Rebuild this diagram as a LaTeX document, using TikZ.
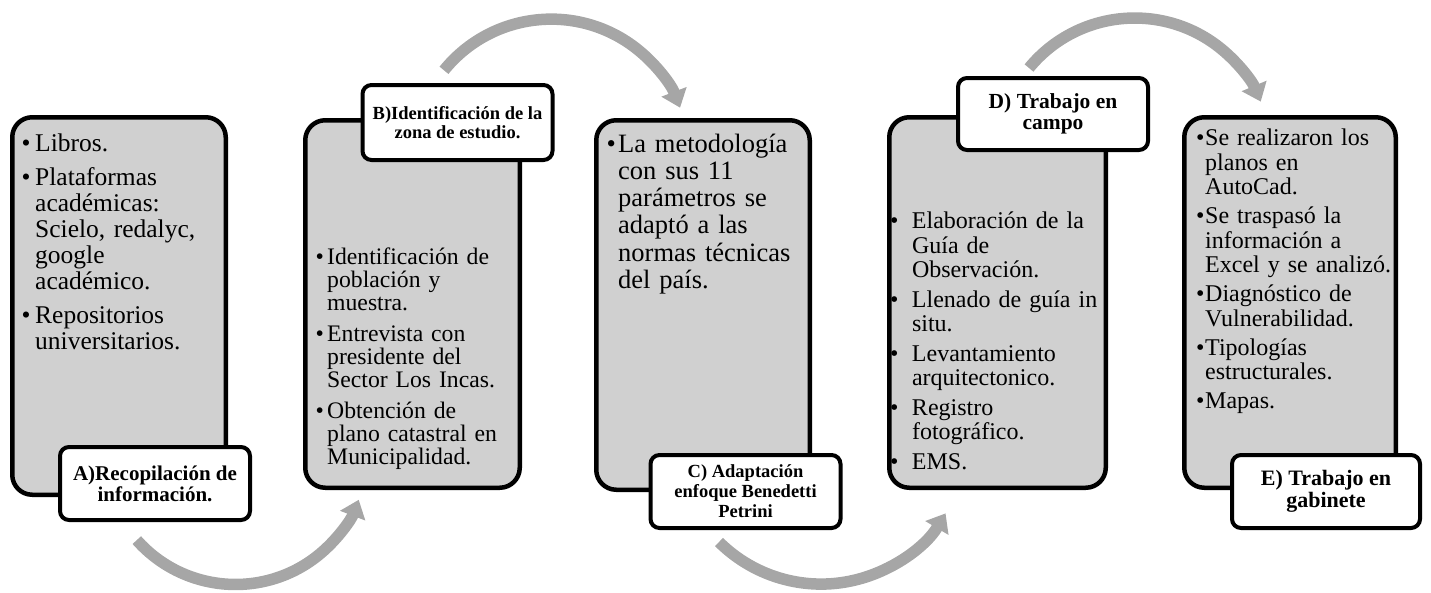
\documentclass[tikz,border=0pt]{standalone}
\usepackage{fontspec}
\setmainfont{Liberation Serif}
\usetikzlibrary{arrows.meta}
\definecolor{boxgray}{RGB}{208,208,208}
\definecolor{arrowgray}{RGB}{166,166,166}
\newlength{\bind}
\newlength{\bgapl}
\newcommand{\bitem}[1]{\par\noindent\hangindent=\bind\hangafter=1\makebox[\bind][l]{\textbullet}#1\par}
\newcommand{\bsep}{\vskip\bgapl}
\tikzset{
  graybox/.style={draw=black, line width=4.5pt, fill=boxgray, rounded corners=20pt, inner sep=0pt},
  labbox/.style={draw=black, line width=4pt, fill=white, rounded corners=9pt, inner sep=0pt, align=center, minimum width=190pt, minimum height=73pt},
  bodytext/.style={anchor=base west, inner sep=0pt, text width=250pt},
  flow/.style={draw=arrowgray, line width=11.5pt, -{Triangle[width=26pt,length=17pt]}}
}
\begin{document}
\begin{tikzpicture}[x=1pt, y=-1pt]
\useasboundingbox (0,0) rectangle (1431,592);
% gray boxes
\node[graybox, minimum width=213.5pt, minimum height=377.5pt] (A) at (119,306) {};
\node[graybox, minimum width=214.5pt, minimum height=367.5pt] (B) at (412.5,304) {};
\node[graybox, minimum width=213.5pt, minimum height=369.5pt] (C) at (703,305) {};
\node[graybox, minimum width=216.5pt, minimum height=370.5pt] (D) at (997.5,302.5) {};
\node[graybox, minimum width=211.5pt, minimum height=370.5pt] (E) at (1290,302.5) {};
% body texts
\node[bodytext, font={\fontsize{25.5}{26}\selectfont}] (At) at (21.5,125) {%
\setlength{\bind}{13.5pt}\setlength{\bgapl}{8pt}%
\bitem{Libros.}\bsep
\bitem{Plataformas\newline académicas:\newline Scielo, redalyc,\newline google\newline académico.}\bsep
\bitem{Repositorios\newline universitarios.}};
\node[bodytext, font={\fontsize{23.7}{23}\selectfont}] (Bt) at (315.4,241) {%
\setlength{\bind}{11.6pt}\setlength{\bgapl}{8pt}%
\bitem{Identificación de\newline población y\newline muestra.}\bsep
\bitem{Entrevista con\newline presidente del\newline Sector Los Incas.}\bsep
\bitem{Obtención de\newline plano catastral en\newline Municipalidad.}};
\node[bodytext, font={\fontsize{26.5}{27.2}\selectfont}] (Ct) at (606.4,125) {%
\setlength{\bind}{11.6pt}%
\bitem{La metodología\newline con sus 11\newline parámetros se\newline adaptó a las\newline normas técnicas\newline del país.}};
\node[bodytext, font={\fontsize{24}{24.5}\selectfont}] (Dt) at (889.8,204) {%
\setlength{\bind}{22pt}\setlength{\bgapl}{5pt}%
\bitem{Elaboración de la\newline Guía de\newline Observación.}\bsep
\bitem{Llenado de guía in\newline situ.}\bsep
\bitem{Levantamiento\newline arquitectonico.}\bsep
\bitem{Registro\newline fotográfico.}\bsep
\bitem{EMS.}};
\node[bodytext, font={\fontsize{24}{24.5}\selectfont}] (Et) at (1195.8,121) {%
\setlength{\bind}{9.2pt}\setlength{\bgapl}{4.5pt}%
\bitem{Se realizaron los\newline planos en\newline AutoCad.}\bsep
\bitem{Se traspasó la\newline información a\newline Excel y se analizó.}\bsep
\bitem{Diagnóstico de\newline Vulnerabilidad.}\bsep
\bitem{Tipologías\newline estructurales.}\bsep
\bitem{Mapas.}};
% labels
\node[labbox, font={\bfseries\fontsize{21}{21}\selectfont}] (La) at (155,483.5) {A)Recopilación de\\información.};
\node[labbox, minimum height=75pt, font={\bfseries\fontsize{18.5}{19}\selectfont}] (Lb) at (457.5,122.5) {B)Identificación de la\\zona de estudio.};
\node[labbox, font={\bfseries\fontsize{18.5}{20}\selectfont}] (Lc) at (745.5,491.5) {C) Adaptación\\enfoque Benedetti\\Petrini};
\node[labbox, minimum height=72pt, font={\bfseries\fontsize{21.5}{21}\selectfont}] (Ld) at (1053,114) {D) Trabajo en\\campo};
\node[labbox, minimum width=188pt, font={\bfseries\fontsize{22}{22}\selectfont}] (Le) at (1326,491.5) {E) Trabajo en\\gabinete};
% arrows
\coordinate (s1) at (136.8,540.1);
\coordinate (s2) at (444,70.3);
\coordinate (s3) at (719,542);
\coordinate (s4) at (1029,68);
\draw[flow] (s1) arc[start angle=221.6, end angle=339, radius=132pt];
\draw[flow] (s2) arc[start angle=141, end angle=21, radius=138pt];
\draw[flow] (s3) arc[start angle=225.2, end angle=329.2, radius=144.9pt];
\draw[flow] (s4) arc[start angle=140.6, end angle=22.9, radius=136.8pt];
\end{tikzpicture}
\end{document}
